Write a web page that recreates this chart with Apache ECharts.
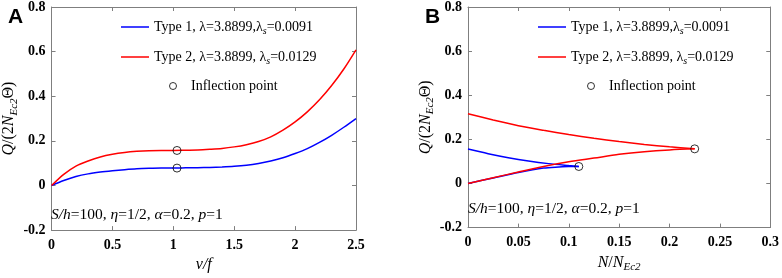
<!DOCTYPE html>
<html>
<head>
<meta charset="utf-8">
<script src="https://cdn.jsdelivr.net/npm/echarts@6/dist/echarts.min.js"></script>
<style>
  html, body { margin: 0; padding: 0; background: #fff; }
  #main { width: 782px; height: 278px; }
</style>
</head>
<body>
<div id="main"></div>
<script>
// panel A: v/f against Q/(2N_Ec2 Θ)
var vfA = [0, 0.1, 0.2, 0.3, 0.4, 0.5, 0.6, 0.7, 0.8, 0.9, 1.0, 1.1, 1.2, 1.3, 1.4, 1.5, 1.6, 1.7, 1.8, 1.9, 2.0, 2.1, 2.2, 2.3, 2.4, 2.5];
var type1A = [0, 0.022, 0.040, 0.052, 0.060, 0.066, 0.071, 0.075, 0.077, 0.078, 0.078, 0.079, 0.080, 0.081, 0.083, 0.086, 0.091, 0.099, 0.110, 0.124, 0.143, 0.165, 0.193, 0.225, 0.261, 0.300];
var type2A = [0, 0.050, 0.087, 0.110, 0.128, 0.140, 0.148, 0.153, 0.156, 0.157, 0.157, 0.158, 0.159, 0.162, 0.166, 0.173, 0.183, 0.197, 0.218, 0.248, 0.285, 0.330, 0.384, 0.448, 0.522, 0.608];
var inflA = [[1.03, 0.078], [1.03, 0.157]];

// panel B: N/N_Ec2 against Q/(2N_Ec2 Θ), two branches per type
var nT1Up = [0, 0.02, 0.04, 0.06, 0.08, 0.1, 0.11];
var qT1Up = [0.156, 0.135, 0.117, 0.102, 0.090, 0.081, 0.077];
var nT1Lo = [0, 0.025, 0.05, 0.075, 0.09, 0.1, 0.11];
var qT1Lo = [0, 0.025, 0.050, 0.070, 0.075, 0.077, 0.077];
var nT2 = [0, 0.025, 0.05, 0.075, 0.1, 0.125, 0.15, 0.175, 0.2, 0.225];
var qT2Up = [0.316, 0.288, 0.262, 0.241, 0.222, 0.205, 0.190, 0.177, 0.166, 0.157];
var qT2Lo = [0, 0.026, 0.052, 0.077, 0.098, 0.115, 0.132, 0.144, 0.152, 0.157];
var inflB = [[0.11, 0.077], [0.225, 0.157]];

var yTicks = { min: -0.2, max: 0.8, interval: 0.2 };

function pairs(xs, ys) {
  return xs.map(function (x, i) { return [x, ys[i]]; });
}

var SERIF = 'Liberation Serif';
var BLUE = '#0000ff';
var RED = '#ff0000';
var frameColor = '#7f7f7f';

// axis names
var richText = {
  i: { fontFamily: SERIF, fontStyle: 'italic', fontWeight: 'normal', fontSize: 16, color: '#000' },
  n: { fontFamily: SERIF, fontWeight: 'normal', fontSize: 16, color: '#000' },
  sub: { fontFamily: SERIF, fontStyle: 'italic', fontWeight: 'normal', fontSize: 11, color: '#000', verticalAlign: 'bottom', padding: [10, 0, 0, 0] }
};
// lower-left note
var noteRich = {
  i: { fontFamily: SERIF, fontStyle: 'italic', fontWeight: 'normal', fontSize: 15.5, color: '#000' },
  n: { fontFamily: SERIF, fontWeight: 'normal', fontSize: 15.5, color: '#000' }
};
var legendRich = {
  n: { fontFamily: SERIF, fontSize: 14, fontWeight: 'normal', color: '#000' },
  s: { fontFamily: SERIF, fontSize: 10, fontStyle: 'italic', color: '#000', verticalAlign: 'bottom', padding: [8, 0, 0, 0] }
};

function fmt(v) { return String(+v.toFixed(2)); }

function xAxisPair(gridIndex, min, max, interval, name, gap) {
  return [
    {
      type: 'value', gridIndex: gridIndex, min: min, max: max, interval: interval,
      name: name, nameLocation: 'middle', nameGap: gap,
      nameTextStyle: { rich: richText },
      axisLine: { show: true, onZero: false, lineStyle: { color: frameColor, width: 1 } },
      axisTick: { show: true, inside: true, length: 4, lineStyle: { color: frameColor } },
      axisLabel: { formatter: fmt, margin: 8, color: '#000', fontFamily: SERIF, fontWeight: 'bold', fontSize: 14 },
      splitLine: { show: false }
    },
    {
      type: 'value', gridIndex: gridIndex, position: 'top', min: min, max: max, interval: interval,
      axisLine: { show: true, onZero: false, lineStyle: { color: frameColor, width: 1 } },
      axisTick: { show: true, inside: true, length: 4, lineStyle: { color: frameColor } },
      axisLabel: { show: false },
      splitLine: { show: false }
    }
  ];
}

function yAxisPair(gridIndex, gap) {
  return [
    {
      type: 'value', gridIndex: gridIndex, min: yTicks.min, max: yTicks.max, interval: yTicks.interval,
      name: '{i|Q}{n|/(2}{i|N}{sub|Ec2}{n|Θ)}', nameLocation: 'middle', nameGap: gap,
      nameTextStyle: { rich: richText },
      axisLine: { show: true, onZero: false, lineStyle: { color: frameColor, width: 1 } },
      axisTick: { show: true, inside: true, length: 4, lineStyle: { color: frameColor } },
      axisLabel: { formatter: fmt, margin: 6, color: '#000', fontFamily: SERIF, fontWeight: 'bold', fontSize: 14 },
      splitLine: { show: false }
    },
    {
      type: 'value', gridIndex: gridIndex, position: 'right', min: yTicks.min, max: yTicks.max, interval: yTicks.interval,
      axisLine: { show: true, onZero: false, lineStyle: { color: frameColor, width: 1 } },
      axisTick: { show: true, inside: true, length: 4, lineStyle: { color: frameColor } },
      axisLabel: { show: false },
      splitLine: { show: false }
    }
  ];
}

function lineSeries(name, color, xi, yi, data) {
  return {
    name: name, type: 'line', xAxisIndex: xi, yAxisIndex: yi, data: data,
    showSymbol: false, symbol: 'none', smooth: 0.3,
    lineStyle: { color: color, width: 1.5 }, itemStyle: { color: color }
  };
}

function pointSeries(xi, yi, data) {
  return {
    name: 'Inflection point', type: 'scatter', xAxisIndex: xi, yAxisIndex: yi, data: data,
    symbol: 'circle', symbolSize: 8, z: 5,
    itemStyle: { color: 'rgba(255,255,255,0)', borderColor: '#000', borderWidth: 1 }
  };
}

var T1 = 'Type 1';
var T2 = 'Type 2';
var legendNames = {};
legendNames[T1] = '{n|Type 1, λ=3.8899,λ}{s|s}{n|=0.0091}';
legendNames[T2] = '{n|Type 2, λ=3.8899, λ}{s|s}{n|=0.0129}';
legendNames['Inflection point'] = '{n|Inflection point}';

function lineLegend(left) {
  return {
    left: left, top: 20, orient: 'vertical', itemGap: 14, padding: 0,
    itemWidth: 28, itemHeight: 14,
    data: [
      { name: T1, icon: 'path://M0,0L28,0L28,1.5L0,1.5Z', itemStyle: { color: BLUE } },
      { name: T2, icon: 'path://M0,0L28,0L28,1.5L0,1.5Z', itemStyle: { color: RED } }
    ],
    formatter: function (n) { return legendNames[n]; },
    textStyle: { rich: legendRich }
  };
}

function pointLegend(left) {
  return {
    left: left, top: 79, itemWidth: 26, itemHeight: 7, padding: 0,
    data: [{ name: 'Inflection point', icon: 'circle', itemStyle: { color: '#fff', borderColor: '#000', borderWidth: 1 } }],
    formatter: function (n) { return legendNames[n]; },
    textStyle: { rich: legendRich }
  };
}

var xA = xAxisPair(0, 0, 2.5, 0.5, '{i|v/f}', 20);
var xB = xAxisPair(1, 0, 0.3, 0.05, '{i|N}{n|/}{i|N}{sub|Ec2}', 17);
var yA = yAxisPair(0, 27);
var yB = yAxisPair(1, 27);

var noteText = '{i|S/h}{n|=100, }{i|η}{n|=1/2, }{i|α}{n|=0.2, }{i|p}{n|=1}';

var option = {
  animation: false,
  backgroundColor: '#fff',
  title: [
    { text: 'A', left: 3, top: 2, textStyle: { fontFamily: 'Liberation Sans', fontWeight: 'bold', fontSize: 21, color: '#000' } },
    { text: 'B', left: 420, top: 2, textStyle: { fontFamily: 'Liberation Sans', fontWeight: 'bold', fontSize: 21, color: '#000' } },
    { text: noteText, left: 51, top: 207, padding: [0, 0, 0, 0], textStyle: { rich: noteRich } },
    { text: noteText, left: 468, top: 201, padding: [0, 0, 0, 0], textStyle: { rich: noteRich } }
  ],
  grid: [
    { left: 51, top: 7, width: 305, height: 231 },
    { left: 468, top: 7, width: 303, height: 225 }
  ],
  xAxis: [xA[0], xA[1], xB[0], xB[1]],
  yAxis: [yA[0], yA[1], yB[0], yB[1]],
  legend: [lineLegend(121), pointLegend(169), lineLegend(538), pointLegend(587)],
  series: [
    lineSeries(T1, BLUE, 0, 0, pairs(vfA, type1A)),
    lineSeries(T2, RED, 0, 0, pairs(vfA, type2A)),
    pointSeries(0, 0, inflA),
    lineSeries(T1, BLUE, 2, 2, pairs(nT1Up, qT1Up)),
    lineSeries(T1, BLUE, 2, 2, pairs(nT1Lo, qT1Lo)),
    lineSeries(T2, RED, 2, 2, pairs(nT2, qT2Up)),
    lineSeries(T2, RED, 2, 2, pairs(nT2, qT2Lo)),
    pointSeries(2, 2, inflB)
  ]
};

var chart = echarts.init(document.getElementById('main'), null, { renderer: 'canvas' });
chart.setOption(option);
</script>
</body>
</html>
